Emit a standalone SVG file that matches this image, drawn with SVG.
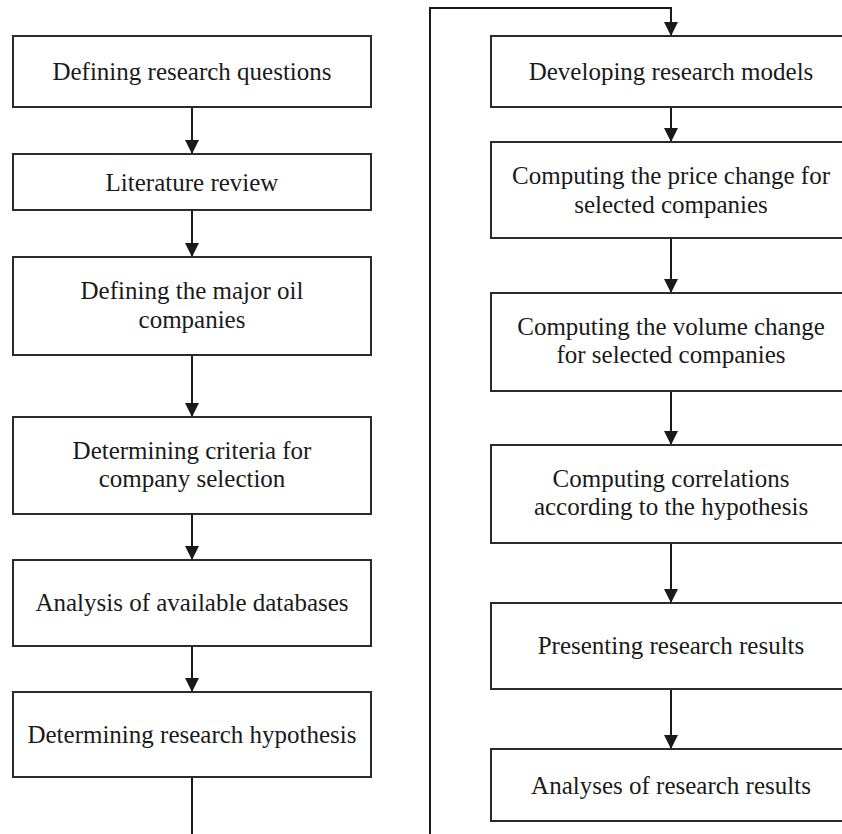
<svg xmlns="http://www.w3.org/2000/svg" width="842" height="834" viewBox="0 0 842 834">
<style>
.box{fill:#fff;stroke:#2b2b2b;stroke-width:2}
.t{font-family:"Liberation Serif","Times New Roman",serif;font-size:25px;fill:#1a1a1a;text-anchor:middle}
.c{fill:none;stroke:#1a1a1a;stroke-width:2}
</style>
<defs>
<marker id="ah" markerUnits="userSpaceOnUse" markerWidth="14" markerHeight="14" refX="14" refY="7" orient="auto" viewBox="0 0 14 14">
<path d="M0,0 L14,7 L0,14 z" fill="#1a1a1a"/>
</marker>
</defs>
<rect width="842" height="834" fill="#fff"/>
<g id="connectors">
<path class="c" d="M192,107 V154" marker-end="url(#ah)"/>
<path class="c" d="M192,210 V257" marker-end="url(#ah)"/>
<path class="c" d="M192,355 V417" marker-end="url(#ah)"/>
<path class="c" d="M192,514 V560" marker-end="url(#ah)"/>
<path class="c" d="M192,646 V692" marker-end="url(#ah)"/>
<path class="c" d="M192,777 V840 H430 V8 H671 V36" marker-end="url(#ah)"/>
<path class="c" d="M671,107 V142" marker-end="url(#ah)"/>
<path class="c" d="M671,238 V293" marker-end="url(#ah)"/>
<path class="c" d="M671,391 V445" marker-end="url(#ah)"/>
<path class="c" d="M671,543 V603" marker-end="url(#ah)"/>
<path class="c" d="M671,689 V749" marker-end="url(#ah)"/>
</g>
<g id="n1"><rect class="box" x="13" y="36" width="358" height="71"/><text class="t" x="192" y="80">Defining research questions</text></g>
<g id="n2"><rect class="box" x="13" y="154" width="358" height="56"/><text class="t" x="192" y="191">Literature review</text></g>
<g id="n3"><rect class="box" x="13" y="257" width="358" height="98"/><text class="t" x="192" y="299">Defining the major oil</text><text class="t" x="192" y="328">companies</text></g>
<g id="n4"><rect class="box" x="13" y="417" width="358" height="97"/><text class="t" x="192" y="459">Determining criteria for</text><text class="t" x="192" y="487">company selection</text></g>
<g id="n5"><rect class="box" x="13" y="560" width="358" height="86"/><text class="t" x="192" y="611">Analysis of available databases</text></g>
<g id="n6"><rect class="box" x="13" y="692" width="358" height="85"/><text class="t" x="192" y="743">Determining research hypothesis</text></g>
<g id="n7"><rect class="box" x="491" y="36" width="360" height="71"/><text class="t" x="671" y="80">Developing research models</text></g>
<g id="n8"><rect class="box" x="491" y="142" width="360" height="96"/><text class="t" x="671" y="184">Computing the price change for</text><text class="t" x="671" y="213">selected companies</text></g>
<g id="n9"><rect class="box" x="491" y="293" width="360" height="98"/><text class="t" x="671" y="335">Computing the volume change</text><text class="t" x="671" y="363">for selected companies</text></g>
<g id="n10"><rect class="box" x="491" y="445" width="360" height="98"/><text class="t" x="671" y="487">Computing correlations</text><text class="t" x="671" y="515">according to the hypothesis</text></g>
<g id="n11"><rect class="box" x="491" y="603" width="360" height="86"/><text class="t" x="671" y="654">Presenting research results</text></g>
<g id="n12"><rect class="box" x="491" y="749" width="360" height="72"/><text class="t" x="671" y="794">Analyses of research results</text></g>
</svg>
